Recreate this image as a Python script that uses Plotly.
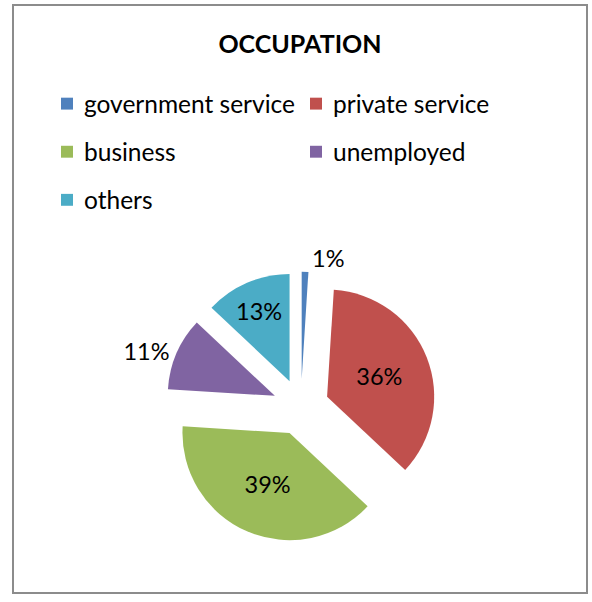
import plotly.graph_objects as go

# Occupation breakdown (percent of respondents)
labels = ["government service", "private service", "business", "unemployed", "others"]
values = [1, 36, 39, 11, 13]
colors = ["#4F81BD", "#C0504D", "#9BBB59", "#8064A2", "#4BACC6"]
text_positions = ["outside", "inside", "inside", "outside", "inside"]

W, H = 592, 602
FONT = "Lato"

# pie geometry in pixels
PIE_CX, PIE_CY = 300.8, 410.5
PIE_R = 108.0
PULL = 0.264
half = PIE_R * (1 + PULL)

fig = go.Figure(
    go.Pie(
        labels=labels,
        values=values,
        marker=dict(colors=colors, line=dict(width=0)),
        sort=False,
        direction="clockwise",
        rotation=0,
        pull=[PULL] * len(values),
        textinfo="percent",
        textposition=text_positions,
        insidetextorientation="horizontal",
        textfont=dict(family=FONT, size=23.5, color="#000000"),
        showlegend=False,
        hoverinfo="label+percent",
        domain=dict(
            x=[(PIE_CX - half) / W, (PIE_CX + half) / W],
            y=[1 - (PIE_CY + half) / H, 1 - (PIE_CY - half) / H],
        ),
    )
)

# chart frame
fig.add_shape(
    type="rect", xref="paper", yref="paper",
    x0=13 / W, x1=587 / W, y0=1 - 598 / H, y1=1 - 5 / H,
    line=dict(color="#8c8c8c", width=2), fillcolor="rgba(0,0,0,0)",
)

# legend: two columns, square swatch + label
SW = 12
for i, (lab, col) in enumerate(zip(labels, colors)):
    c, r = i % 2, i // 2
    sx = 61 + c * 249
    yc = 104.5 + r * 48.5
    fig.add_shape(
        type="rect", xref="paper", yref="paper",
        x0=sx / W, x1=(sx + SW) / W,
        y0=1 - (yc + SW / 2) / H, y1=1 - (yc - SW / 2) / H,
        line=dict(width=0), fillcolor=col,
    )
    fig.add_annotation(
        x=(sx + 21) / W, y=1 - yc / H, xref="paper", yref="paper",
        text=lab, showarrow=False, xanchor="left", yanchor="middle",
        font=dict(family=FONT, size=24.5, color="#000000"),
    )

fig.update_layout(
    width=W, height=H,
    margin=dict(l=0, r=0, t=0, b=0),
    paper_bgcolor="white",
    plot_bgcolor="white",
    title=dict(
        text="OCCUPATION",
        x=300 / W, xanchor="center",
        y=1 - 44 / H, yanchor="middle", yref="container",
        font=dict(family=FONT, size=25, color="#000000", weight="bold"),
    ),
)

fig.write_html("out.html")
